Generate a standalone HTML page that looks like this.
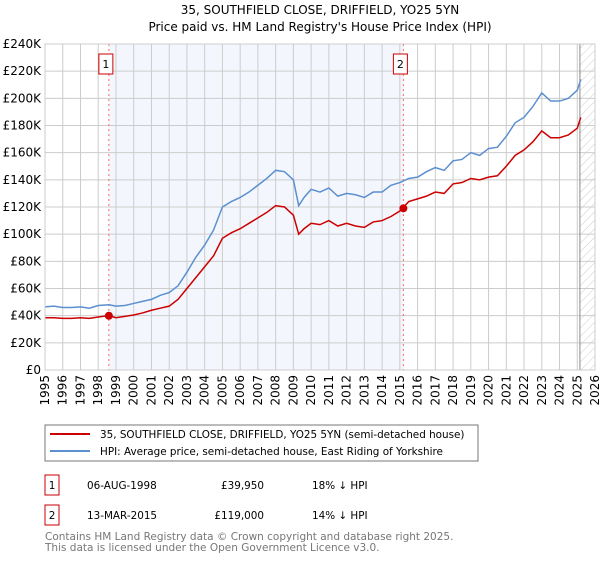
<!DOCTYPE html>
<html><head><meta charset="utf-8"><style>
body{margin:0;background:#fff;font-family:"DejaVu Sans","Liberation Sans",sans-serif;}
svg text{font-family:"DejaVu Sans","Liberation Sans",sans-serif;}
</style></head><body>
<svg id="c" width="600" height="560" xmlns="http://www.w3.org/2000/svg">
<defs><pattern id="hatch" width="6" height="6" patternUnits="userSpaceOnUse" patternTransform="rotate(45)"><line x1="0" y1="0" x2="0" y2="6" stroke="#ccc" stroke-width="1"/></pattern></defs>
<text x="320" y="14" text-anchor="middle" font-size="12">35, SOUTHFIELD CLOSE, DRIFFIELD, YO25 5YN</text>
<text x="320" y="31" text-anchor="middle" font-size="12">Price paid vs. HM Land Registry's House Price Index (HPI)</text>
<g id="plot"></g>
<rect x="45" y="425" width="433" height="36" fill="none" stroke="#777"/>
<line x1="50" y1="434" x2="90" y2="434" stroke="#cc0000" stroke-width="2"/>
<text x="100" y="438" font-size="10.4">35, SOUTHFIELD CLOSE, DRIFFIELD, YO25 5YN (semi-detached house)</text>
<line x1="50" y1="451" x2="90" y2="451" stroke="#5b8fd0" stroke-width="2"/>
<text x="100" y="455" font-size="10.4">HPI: Average price, semi-detached house, East Riding of Yorkshire</text>
<rect x="45" y="475" width="14" height="20" fill="none" stroke="#cc0000"/>
<text x="52" y="489" font-size="10.4" text-anchor="middle">1</text>
<text x="87" y="489" font-size="10.4">06-AUG-1998</text>
<text x="264" y="489" font-size="10.4" text-anchor="end">£39,950</text>
<text x="312" y="489" font-size="10.4">18% ↓ HPI</text>
<rect x="45" y="505" width="14" height="20" fill="none" stroke="#cc0000"/>
<text x="52" y="519" font-size="10.4" text-anchor="middle">2</text>
<text x="87" y="519" font-size="10.4">13-MAR-2015</text>
<text x="264" y="519" font-size="10.4" text-anchor="end">£119,000</text>
<text x="312" y="519" font-size="10.4">14% ↓ HPI</text>
<text x="45" y="540" font-size="10.5" fill="#777">Contains HM Land Registry data © Crown copyright and database right 2025.</text>
<text x="45" y="551" font-size="10.5" fill="#777">This data is licensed under the Open Government Licence v3.0.</text>
</svg>
<script>
const hpiYears=[1995,1995.5,1996,1996.5,1997,1997.5,1998,1998.6,1999,1999.5,2000,2000.5,2001,2001.5,2002,2002.5,2003,2003.5,2004,2004.5,2005,2005.5,2006,2006.5,2007,2007.5,2008,2008.5,2009,2009.3,2009.6,2010,2010.5,2011,2011.5,2012,2012.5,2013,2013.5,2014,2014.5,2015,2015.5,2016,2016.5,2017,2017.5,2018,2018.5,2019,2019.5,2020,2020.5,2021,2021.5,2022,2022.5,2023,2023.5,2024,2024.5,2025,2025.2];
const hpiValues=[46.5,47,46,46,46.5,45.5,47.5,48,47,47.5,49,50.5,52,55,57,62,72,83,92,103,120,124,127,131,136,141,147,146,140,121,127,133,131,134,128,130,129,127,131,131,136,138,141,142,146,149,147,154,155,160,158,163,164,172,182,186,194,204,198,198,200,206,214];
const priceValues=[38.5,38.5,38,38,38.5,38,39,40,38.5,39.5,40.5,42,44,45.5,47,52,60,68,76,84,97,101,104,108,112,116,121,120,114,100,104,108,107,110,106,108,106,105,109,110,113,117,124,126,128,131,130,137,138,141,140,142,143,150,158,162,168,176,171,171,173,178,186];
const saleYears=[1998.6,2015.2];
const salePrices=[39.95,119];
const saleLabels=["1","2"];
const yTicks=[0,20,40,60,80,100,120,140,160,180,200,220,240];
const xYears=[1995,1996,1997,1998,1999,2000,2001,2002,2003,2004,2005,2006,2007,2008,2009,2010,2011,2012,2013,2014,2015,2016,2017,2018,2019,2020,2021,2022,2023,2024,2025,2026];
const X0=45,X1=595,Y0=370,Y1=44;
const x=y=>X0+(y-1995)*(X1-X0)/31;
const yv=v=>Y0-v*(Y0-Y1)/240;
const NS="http://www.w3.org/2000/svg";
const g=document.getElementById('plot');
function mk(t,a){const e=document.createElementNS(NS,t);for(const k in a)e.setAttribute(k,a[k]);g.appendChild(e);return e;}
let e;
e=mk('rect',{x:x(saleYears[0]),y:Y1,width:x(saleYears[1])-x(saleYears[0]),height:Y0-Y1,fill:'#eef3fc',opacity:0.7});


e=mk('rect',{x:x(2025.15),y:Y1,width:X1-x(2025.15),height:Y0-Y1,fill:'url(#hatch)'});


yTicks.forEach(t=>{
 e=mk('line',{x1:X0,x2:X1,y1:yv(t),y2:yv(t),stroke:'#ccc'});
 
 
 e=mk('text',{x:X0-4,y:yv(t)+4,'text-anchor':'end','font-size':12});
 e.textContent=t===0?'£0':'£'+t+'K';
 
 
});
xYears.forEach(yr=>{
 e=mk('line',{x1:x(yr),x2:x(yr),y1:Y1,y2:Y0,stroke:'#ccc'});
 
 
 e=mk('text',{x:0,y:0,'text-anchor':'end','font-size':12,transform:`translate(${x(yr)+4},${Y0+5}) rotate(-90)`});
 e.textContent=yr;
 
 
});
e=mk('line',{x1:x(2025.15),x2:x(2025.15),y1:Y1,y2:Y0,stroke:'#888'});


saleYears.forEach((s,i)=>{
 e=mk('line',{x1:x(s),x2:x(s),y1:Y1,y2:Y0,stroke:'#f66','stroke-dasharray':'2,3'});
 
 
});
e=mk('polyline',{points:hpiYears.map((y,i)=>x(y)+','+yv(hpiValues[i])).join(' '),fill:'none',stroke:'#5b8fd0','stroke-width':1.5});


e=mk('polyline',{points:hpiYears.map((y,i)=>x(y)+','+yv(priceValues[i])).join(' '),fill:'none',stroke:'#cc0000','stroke-width':1.5});


saleYears.forEach((s,i)=>{
 e=mk('circle',{cx:x(s),cy:yv(salePrices[i]),r:4,fill:'#cc0000'});
 
 
 e=mk('rect',{x:x(s)-10,y:54,width:14,height:20,fill:'#fff',stroke:'#cc0000'});
 
 
 e=mk('text',{x:x(s)-3,y:68,'text-anchor':'middle','font-size':11});
 e.textContent=saleLabels[i];
 
 
});
e=mk('rect',{x:X0,y:Y1,width:X1-X0,height:Y0-Y1,fill:'none',stroke:'#ccc'});


</script>
</body></html>
